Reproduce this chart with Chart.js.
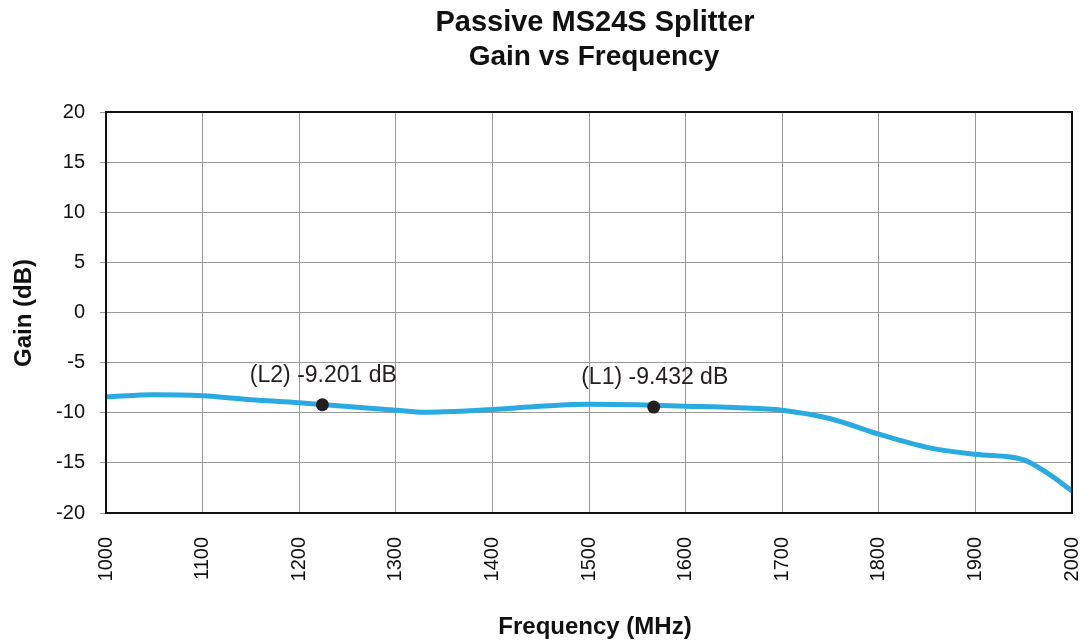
<!DOCTYPE html>
<html>
<head>
<meta charset="utf-8">
<script src="https://cdn.jsdelivr.net/npm/chart.js@4.4.1/dist/chart.umd.min.js"></script>
<style>
html,body{margin:0;padding:0;background:#fff;}
#wrap{width:1088px;height:642px;}
</style>
</head>
<body>
<div id="wrap"><canvas id="c" width="1088" height="642"></canvas></div>
<script>
// ---- data ----
const titleText = "Passive MS24S Splitter";
const subtitleText = "Gain vs Frequency";
const xTitle = "Frequency (MHz)";
const yTitle = "Gain (dB)";
const freq = [1000,1050,1100,1150,1200,1250,1300,1330,1350,1400,1450,1500,1550,1600,1650,1700,1750,1800,1850,1900,1950,1975,2000];
const gain = [-8.41,-8.2,-8.3,-8.7,-9.0,-9.38,-9.74,-9.94,-9.9,-9.67,-9.35,-9.15,-9.2,-9.34,-9.48,-9.74,-10.6,-12.13,-13.45,-14.15,-14.7,-16.05,-17.8];
const markerFreq = [1224,1567];
const markerGain = [-9.201,-9.432];
const markerLabels = ["(L2) -9.201 dB","(L1) -9.432 dB"];
const xMin = 1000, xMax = 2000, xStep = 100;
const yMin = -20, yMax = 20, yStep = 5;

const FONT = "'Liberation Sans', Arial, Helvetica, sans-serif";

const textPlugin = {
  id: 'texts',
  afterDraw(chart) {
    const ctx = chart.ctx;
    const a = chart.chartArea;
    const xs = chart.scales.x, ys = chart.scales.y;
    ctx.save();
    // frame
    ctx.strokeStyle = '#111';
    ctx.lineWidth = 2;
    ctx.strokeRect(a.left, a.top, a.right - a.left, a.bottom - a.top);
    // titles
    ctx.fillStyle = '#111';
    ctx.textAlign = 'center';
    ctx.textBaseline = 'alphabetic';
    ctx.font = "bold 29px " + FONT;
    ctx.fillText(titleText, 595, 31);
    ctx.font = "bold 28px " + FONT;
    ctx.fillText(subtitleText, 594, 65);
    // axis titles
    ctx.font = "bold 24px " + FONT;
    ctx.textBaseline = 'middle';
    ctx.fillText(xTitle, 595, 627);
    ctx.save();
    ctx.translate(24, 313);
    ctx.rotate(-Math.PI / 2);
    ctx.fillText(yTitle, 0, 0);
    ctx.restore();
    // marker labels
    ctx.font = "23px " + FONT;
    ctx.fillStyle = '#231F20';
    ctx.textBaseline = 'alphabetic';
    for (let i = 0; i < markerFreq.length; i++) {
      const px = xs.getPixelForValue(markerFreq[i]);
      const py = ys.getPixelForValue(markerGain[i]);
      ctx.fillText(markerLabels[i], px + 1, py - 23);
    }
    ctx.restore();
  }
};

new Chart(document.getElementById('c'), {
  type: 'scatter',
  data: {
    datasets: [
      {
        label: 'Gain',
        data: freq.map((f, i) => ({x: f, y: gain[i]})),
        showLine: true,
        borderColor: '#29ABE2',
        backgroundColor: '#29ABE2',
        borderWidth: 5,
        pointRadius: 0,
        cubicInterpolationMode: 'monotone',
        order: 2
      },
      {
        label: 'Markers',
        data: markerFreq.map((f, i) => ({x: f, y: markerGain[i]})),
        showLine: false,
        pointRadius: 6.5,
        pointBackgroundColor: '#231F20',
        pointBorderWidth: 0,
        order: 1
      }
    ]
  },
  options: {
    responsive: false,
    animation: false,
    devicePixelRatio: 1,
    layout: { padding: { top: 112, right: 16, bottom: 0, left: 0 } },
    plugins: { legend: { display: false }, title: { display: false }, tooltip: { enabled: false } },
    scales: {
      x: {
        type: 'linear',
        min: xMin, max: xMax,
        afterFit(s) { s.height = 129; s.paddingLeft = 0; s.paddingRight = 0; },
        afterBuildTicks(s) {
          const t = [];
          for (let v = xMin; v <= xMax; v += xStep) t.push({value: v});
          s.ticks = t;
        },
        ticks: {
          stepSize: xStep,
          maxRotation: 90, minRotation: 90,
          padding: 24,
          color: '#111',
          font: { family: FONT, size: 20 },
          callback: v => String(v)
        },
        grid: { color: '#9a9a9a', lineWidth: 1, drawTicks: false },
        border: { display: true, color: '#111', width: 2 }
      },
      y: {
        min: yMin, max: yMax,
        afterFit(s) { s.width = 106; s.paddingTop = 0; s.paddingBottom = 0; },
        ticks: {
          stepSize: yStep,
          padding: 15,
          color: '#111',
          font: { family: FONT, size: 20 },
          callback: v => String(v)
        },
        grid: { color: '#9a9a9a', lineWidth: 1, drawTicks: true, tickLength: 6, tickColor: '#9a9a9a' },
        border: { display: true, color: '#111', width: 2 }
      }
    }
  },
  plugins: [textPlugin]
});
</script>
</body>
</html>
